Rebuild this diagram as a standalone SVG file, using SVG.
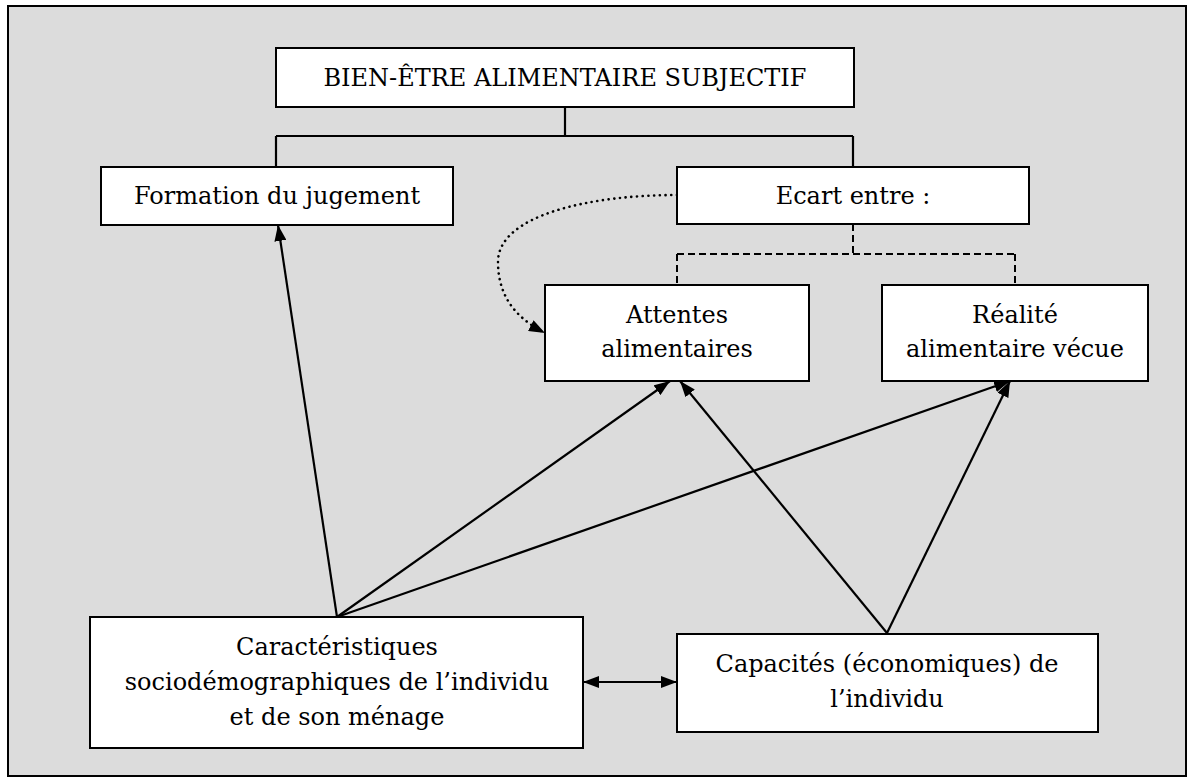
<svg xmlns="http://www.w3.org/2000/svg" width="1194" height="783" viewBox="0 0 1194 783">
<defs>
<style>
.box{fill:#ffffff;stroke:#000;stroke-width:2}
.t{font-family:"DejaVu Serif","Liberation Serif",serif;font-size:24px;fill:#000;text-anchor:middle}
.ln{fill:none;stroke:#000;stroke-width:2.2}
.dash{fill:none;stroke:#000;stroke-width:2;stroke-dasharray:7 4}
.dot{fill:none;stroke:#000;stroke-width:2.6;stroke-dasharray:0.1 5.6;stroke-linecap:round}
</style>
<marker id="ah" viewBox="0 0 16 12" refX="16" refY="6" markerWidth="16" markerHeight="12" markerUnits="userSpaceOnUse" orient="auto-start-reverse">
<path d="M0,0 L16,6 L0,12 z" fill="#000"/>
</marker>
</defs>
<rect x="0" y="0" width="1194" height="783" fill="#ffffff"/>
<rect id="frame" x="8" y="6" width="1178" height="770" fill="#dcdcdc" stroke="#000" stroke-width="2"/>

<g id="connectors">
<path class="ln" d="M565,107 V136 M276,136 H853 M276,136 V167 M853,136 V167"/>
<path class="dash" d="M853,224 V254 M677,254 H1015 M677,254 V285"/>
<path class="dash" d="M1015,254 V285"/>
<path class="dot" d="M677,195 C590,195 498,215 498,262 C498,300 520,320 545,333" marker-end="url(#ah)"/>
<line class="ln" x1="337" y1="617" x2="278" y2="225" marker-end="url(#ah)"/>
<line class="ln" x1="337" y1="617" x2="670" y2="381" marker-end="url(#ah)"/>
<line class="ln" x1="337" y1="617" x2="1010" y2="381" marker-end="url(#ah)"/>
<line class="ln" x1="887" y1="633" x2="680" y2="381" marker-end="url(#ah)"/>
<line class="ln" x1="887" y1="633" x2="1010" y2="381" marker-end="url(#ah)"/>
<line class="ln" x1="583" y1="682" x2="677" y2="682" marker-start="url(#ah)" marker-end="url(#ah)"/>
</g>

<g id="n-bien-etre">
<rect class="box" x="276" y="48" width="578" height="59"/>
<text class="t" x="565" y="86">BIEN-ÊTRE ALIMENTAIRE SUBJECTIF</text>
</g>
<g id="n-formation">
<rect class="box" x="101" y="167" width="352" height="58"/>
<text class="t" x="277" y="204">Formation du jugement</text>
</g>
<g id="n-ecart">
<rect class="box" x="677" y="167" width="352" height="57"/>
<text class="t" x="853" y="204">Ecart entre :</text>
</g>
<g id="n-attentes">
<rect class="box" x="545" y="285" width="264" height="96"/>
<text class="t" x="677" y="323">Attentes</text>
<text class="t" x="677" y="357">alimentaires</text>
</g>
<g id="n-realite">
<rect class="box" x="882" y="285" width="266" height="96"/>
<text class="t" x="1015" y="323">Réalité</text>
<text class="t" x="1015" y="357">alimentaire vécue</text>
</g>
<g id="n-caracteristiques">
<rect class="box" x="90" y="617" width="493" height="131"/>
<text class="t" x="337" y="655">Caractéristiques</text>
<text class="t" x="337" y="690">sociodémographiques de l’individu</text>
<text class="t" x="337" y="725">et de son ménage</text>
</g>
<g id="n-capacites">
<rect class="box" x="677" y="634" width="421" height="98"/>
<text class="t" x="887" y="672">Capacités (économiques) de</text>
<text class="t" x="887" y="707">l’individu</text>
</g>
</svg>
